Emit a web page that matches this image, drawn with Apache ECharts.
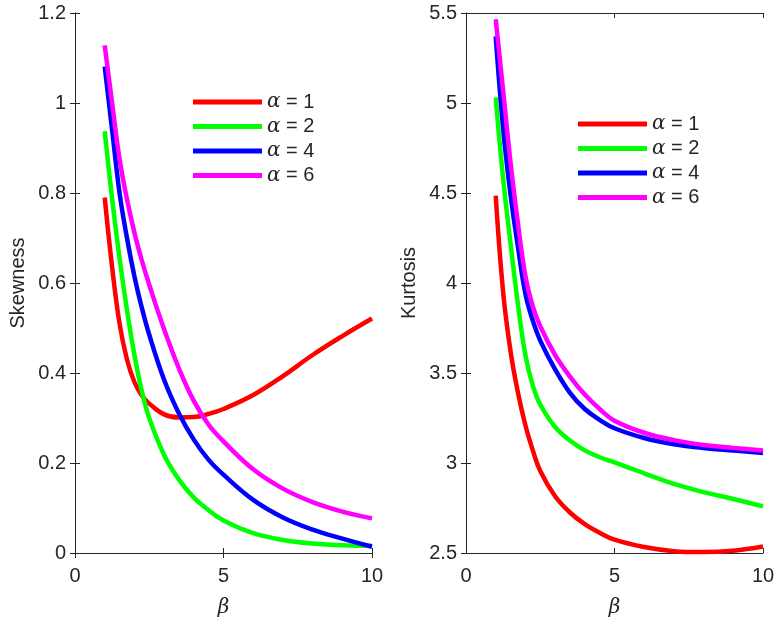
<!DOCTYPE html>
<html>
<head>
<meta charset="utf-8">
<script src="https://cdn.jsdelivr.net/npm/echarts@6/dist/echarts.min.js"></script>
<style>
  html, body { margin: 0; padding: 0; background: #fff; }
  #chart { width: 780px; height: 625px; }
</style>
</head>
<body>
<div id="chart"></div>
<script>
// beta values shared by every curve
const beta = [1, 1.25, 1.5, 1.75, 2, 2.25, 2.5, 3, 3.5, 4, 4.5, 5, 6, 7, 8, 9, 10]

// skewness, one list per alpha
const skew1 = [0.79, 0.635, 0.51, 0.43, 0.38, 0.35, 0.332, 0.308, 0.301, 0.302, 0.309, 0.32, 0.351, 0.393, 0.44, 0.482, 0.521]
const skew2 = [0.937, 0.787, 0.655, 0.54, 0.44, 0.36, 0.3, 0.218, 0.163, 0.123, 0.095, 0.072, 0.044, 0.029, 0.021, 0.017, 0.016]
const skew4 = [1.081, 0.94, 0.8, 0.7, 0.615, 0.545, 0.485, 0.385, 0.31, 0.252, 0.207, 0.174, 0.118, 0.079, 0.052, 0.032, 0.014]
const skew6 = [1.128, 1.0, 0.876, 0.786, 0.712, 0.65, 0.596, 0.497, 0.41, 0.338, 0.285, 0.248, 0.186, 0.143, 0.113, 0.092, 0.077]

// kurtosis, one list per alpha
const kurt1 = [4.485, 3.95, 3.62, 3.39, 3.21, 3.07, 2.955, 2.815, 2.725, 2.66, 2.612, 2.574, 2.533, 2.51, 2.505, 2.513, 2.536]
const kurt2 = [5.03, 4.58, 4.22, 3.88, 3.6, 3.43, 3.325, 3.2, 3.125, 3.07, 3.032, 3.003, 2.943, 2.884, 2.838, 2.8, 2.759]
const kurt4 = [5.37, 4.86, 4.49, 4.2, 3.94, 3.79, 3.68, 3.52, 3.39, 3.3, 3.24, 3.193, 3.139, 3.104, 3.083, 3.069, 3.056]
const kurt6 = [5.465, 5.07, 4.67, 4.33, 4.04, 3.87, 3.76, 3.6, 3.48, 3.38, 3.3, 3.235, 3.168, 3.127, 3.1, 3.084, 3.07]

const names = ['α = 1', 'α = 2', 'α = 4', 'α = 6']
const colors = ['#ff0000', '#00ff00', '#0000ff', '#ff00ff']

const ink = '#262626'
const font = 'Liberation Sans, Arial, sans-serif'

const pairs = ys => ys.map((y, i) => [beta[i], y])

function frameAxis(gridIndex, pos, min, max, interval) {          // plain edge of the box, ticks only
  return {
    type: 'value', gridIndex, position: pos, min, max, interval,
    axisLine: { show: true, lineStyle: { color: ink, width: 1 } },
    axisTick: { show: true, inside: true, length: 5, lineStyle: { color: ink } },
    axisLabel: { show: false },
    splitLine: { show: false }
  }
}

function mainX(gridIndex) {
  return {
    type: 'value', gridIndex, position: 'bottom', min: 0, max: 10, interval: 5,
    name: 'β', nameLocation: 'middle', nameGap: 45,
    nameTextStyle: { fontFamily: 'DejaVu Serif', fontStyle: 'italic', fontSize: 20, color: ink },
    axisLine: { show: true, lineStyle: { color: ink, width: 1 } },
    axisTick: { show: true, inside: true, length: 5, lineStyle: { color: ink } },
    axisLabel: { fontFamily: font, fontSize: 20, color: ink, margin: 13 },
    splitLine: { show: false }
  }
}

function mainY(gridIndex, name, min, max, interval) {
  return {
    type: 'value', gridIndex, position: 'left', min, max, interval,
    name, nameLocation: 'middle', nameGap: 47,
    nameTextStyle: { fontFamily: font, fontSize: 20, color: ink },
    axisLine: { show: true, lineStyle: { color: ink, width: 1 } },
    axisTick: { show: true, inside: true, length: 5, lineStyle: { color: ink } },
    axisLabel: { fontFamily: font, fontSize: 20, color: ink, margin: 9 },
    splitLine: { show: false }
  }
}

function legendAt(left, top) {
  return {
    left, top, orient: 'vertical', padding: 0, itemGap: 4.5,
    icon: 'rect', itemWidth: 69, itemHeight: 5, itemStyle: { borderWidth: 0 },
    data: names, selectedMode: false,
    formatter: n => '{a|α}{b|' + n.slice(1) + '}',
    textStyle: {
      color: ink, lineHeight: 20,
      rich: {
        a: { fontFamily: 'DejaVu Serif', fontStyle: 'italic', fontSize: 20, color: ink, lineHeight: 20 },
        b: { fontFamily: font, fontSize: 20, color: ink, lineHeight: 20 }
      }
    }
  }
}

function curves(lists, xi, yi) {
  return lists.map((ys, k) => ({
    type: 'line', name: names[k], xAxisIndex: xi, yAxisIndex: yi,
    data: pairs(ys), showSymbol: false, symbol: 'none', smooth: 0.4,
    lineStyle: { color: colors[k], width: 4.5 }, itemStyle: { color: colors[k] },
    z: 2 + k
  }))
}

const chart = echarts.init(document.getElementById('chart'), null, { renderer: 'canvas' })
chart.setOption({
  animation: false,
  backgroundColor: '#fff',
  grid: [
    { left: 75, right: 408, top: 13, bottom: 72 },
    { left: 466, right: 17, top: 13, bottom: 72 }
  ],
  xAxis: [
    mainX(0), frameAxis(0, 'top', 0, 10, 5),
    mainX(1), frameAxis(1, 'top', 0, 10, 5)
  ],
  yAxis: [
    mainY(0, 'Skewness', 0, 1.2, 0.2), frameAxis(0, 'right', 0, 1.2, 0.2),
    mainY(1, 'Kurtosis', 2.5, 5.5, 0.5), frameAxis(1, 'right', 2.5, 5.5, 0.5)
  ],
  legend: [legendAt(193, 92), legendAt(578, 114)],
  series: [
    ...curves([skew1, skew2, skew4, skew6], 0, 0),
    ...curves([kurt1, kurt2, kurt4, kurt6], 2, 2)
  ]
})
</script>
</body>
</html>
